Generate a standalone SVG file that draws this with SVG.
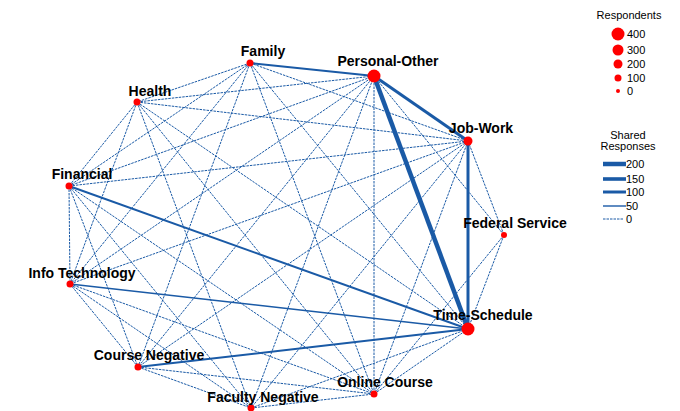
<svg xmlns="http://www.w3.org/2000/svg" width="680" height="411" viewBox="0 0 680 411">
  <style>
    .e { stroke: #1a5aa6; fill: none; }
    .d { stroke-width: 1; stroke-dasharray: 2.5 1; }
    .w1 { stroke-width: 1.4; }
    .w2 { stroke-width: 2; }
    .w3 { stroke-width: 3; }
    .w5 { stroke-width: 4.5; }
    .n { fill: #ff0000; }
    .lbl { font-family: "Liberation Sans", Arial, sans-serif; font-size: 14px; font-weight: bold; fill: #000; text-anchor: middle; }
    .leg { font-family: "Liberation Sans", Arial, sans-serif; font-size: 11px; fill: #000; }
  </style>
  <rect width="680" height="411" fill="#fff"/>

  <!-- connectors -->
  <g id="edges">
    <!-- Family -->
    <line class="e d" x1="250" y1="63" x2="137" y2="102"/>
    <line class="e d" x1="250" y1="63" x2="69" y2="186"/>
    <line class="e d" x1="250" y1="63" x2="70" y2="284"/>
    <line class="e d" x1="250" y1="63" x2="138" y2="367"/>
    <line class="e d" x1="250" y1="63" x2="374" y2="394"/>
    <line class="e d" x1="250" y1="63" x2="468" y2="329"/>
    <line class="e d" x1="250" y1="63" x2="468" y2="141"/>
    <line class="e w2" x1="250" y1="63" x2="374" y2="76"/>
    <!-- Health -->
    <line class="e d" x1="137" y1="102" x2="374" y2="76"/>
    <line class="e d" x1="137" y1="102" x2="468" y2="141"/>
    <line class="e d" x1="137" y1="102" x2="69" y2="186"/>
    <line class="e d" x1="137" y1="102" x2="70" y2="284"/>
    <line class="e d" x1="137" y1="102" x2="251" y2="408"/>
    <line class="e d" x1="137" y1="102" x2="374" y2="394"/>
    <line class="e d" x1="137" y1="102" x2="468" y2="329"/>
    <!-- Personal-Other -->
    <line class="e d" x1="374" y1="76" x2="69" y2="186"/>
    <line class="e d" x1="374" y1="76" x2="70" y2="284"/>
    <line class="e d" x1="374" y1="76" x2="138" y2="367"/>
    <line class="e d" x1="374" y1="76" x2="251" y2="408"/>
    <line class="e d" x1="374" y1="76" x2="374" y2="394"/>
    <line class="e d" x1="374" y1="76" x2="504" y2="235"/>
    <line class="e w3" x1="374" y1="76" x2="468" y2="141"/>
    <line class="e w5" x1="374" y1="76" x2="468" y2="329"/>
    <!-- Job-Work -->
    <line class="e d" x1="468" y1="141" x2="69" y2="186"/>
    <line class="e d" x1="468" y1="141" x2="70" y2="284"/>
    <line class="e d" x1="468" y1="141" x2="138" y2="367"/>
    <line class="e d" x1="468" y1="141" x2="251" y2="408"/>
    <line class="e d" x1="468" y1="141" x2="374" y2="394"/>
    <line class="e d" x1="468" y1="141" x2="504" y2="235"/>
    <line class="e w3" x1="468" y1="141" x2="468" y2="329"/>
    <!-- Financial -->
    <line class="e d" x1="69" y1="186" x2="70" y2="284"/>
    <line class="e d" x1="69" y1="186" x2="138" y2="367"/>
    <line class="e d" x1="69" y1="186" x2="251" y2="408"/>
    <line class="e d" x1="69" y1="186" x2="374" y2="394"/>
    <line class="e w2" x1="69" y1="186" x2="468" y2="329"/>
    <!-- Info Technology -->
    <line class="e d" x1="70" y1="284" x2="138" y2="367"/>
    <line class="e d" x1="70" y1="284" x2="251" y2="408"/>
    <line class="e d" x1="70" y1="284" x2="374" y2="394"/>
    <line class="e w1" x1="70" y1="284" x2="468" y2="329"/>
    <!-- Course Negative -->
    <line class="e d" x1="138" y1="367" x2="251" y2="408"/>
    <line class="e d" x1="138" y1="367" x2="374" y2="394"/>
    <line class="e w2" x1="138" y1="367" x2="468" y2="329"/>
    <!-- Faculty Negative -->
    <line class="e d" x1="251" y1="408" x2="374" y2="394"/>
    <line class="e d" x1="251" y1="408" x2="468" y2="329"/>
    <!-- Online Course / Federal Service -->
    <line class="e d" x1="374" y1="394" x2="468" y2="329"/>
    <line class="e d" x1="374" y1="394" x2="504" y2="235"/>
    <line class="e d" x1="504" y1="235" x2="468" y2="329"/>
  </g>

  <!-- nodes -->
  <g id="node-family"><circle class="n" cx="250" cy="63" r="3.5"/><text class="lbl" x="263" y="56">Family</text></g>
  <g id="node-personal-other"><circle class="n" cx="374" cy="76" r="6.5"/><text class="lbl" x="388" y="66">Personal-Other</text></g>
  <g id="node-job-work"><circle class="n" cx="468" cy="141" r="4.5"/><text class="lbl" x="481" y="133">Job-Work</text></g>
  <g id="node-federal-service"><circle class="n" cx="504" cy="235" r="3"/><text class="lbl" x="515" y="228">Federal Service</text></g>
  <g id="node-time-schedule"><circle class="n" cx="468" cy="329" r="6.5"/><text class="lbl" x="483" y="320">Time-Schedule</text></g>
  <g id="node-online-course"><circle class="n" cx="374" cy="394" r="3.5"/><text class="lbl" x="385" y="387">Online Course</text></g>
  <g id="node-faculty-negative"><circle class="n" cx="251" cy="408" r="3.5"/><text class="lbl" x="263" y="402">Faculty Negative</text></g>
  <g id="node-course-negative"><circle class="n" cx="138" cy="367" r="3.5"/><text class="lbl" x="149" y="360">Course Negative</text></g>
  <g id="node-info-technology"><circle class="n" cx="70" cy="284" r="3.5"/><text class="lbl" x="82" y="278">Info Technology</text></g>
  <g id="node-financial"><circle class="n" cx="69" cy="186" r="3.5"/><text class="lbl" x="82" y="179">Financial</text></g>
  <g id="node-health"><circle class="n" cx="137" cy="102" r="3.5"/><text class="lbl" x="150" y="96">Health</text></g>

  <!-- respondents legend -->
  <g id="legend-respondents">
    <text class="leg" x="629" y="19" text-anchor="middle">Respondents</text>
    <circle class="n" cx="618" cy="34" r="6.5"/><text class="leg" x="627" y="38">400</text>
    <circle class="n" cx="618" cy="50" r="5.5"/><text class="leg" x="627" y="54">300</text>
    <circle class="n" cx="618" cy="64" r="4.5"/><text class="leg" x="627" y="68">200</text>
    <circle class="n" cx="618" cy="78" r="3.5"/><text class="leg" x="627" y="82">100</text>
    <circle class="n" cx="618" cy="91" r="2"/><text class="leg" x="627" y="95">0</text>
  </g>

  <!-- shared responses legend -->
  <g id="legend-shared">
    <text class="leg" x="628" y="139" text-anchor="middle">Shared</text>
    <text class="leg" x="628" y="150" text-anchor="middle">Responses</text>
    <line class="e w5" x1="603" y1="164" x2="626" y2="164"/><text class="leg" x="626" y="168">200</text>
    <line class="e" stroke-width="3.6" x1="603" y1="179" x2="626" y2="179"/><text class="leg" x="626" y="183">150</text>
    <line class="e w3" x1="603" y1="192" x2="626" y2="192"/><text class="leg" x="626" y="196">100</text>
    <line class="e w1" x1="603" y1="206" x2="626" y2="206"/><text class="leg" x="626" y="210">50</text>
    <line class="e d" x1="603" y1="219" x2="623" y2="219"/><text class="leg" x="626" y="223">0</text>
  </g>
</svg>
